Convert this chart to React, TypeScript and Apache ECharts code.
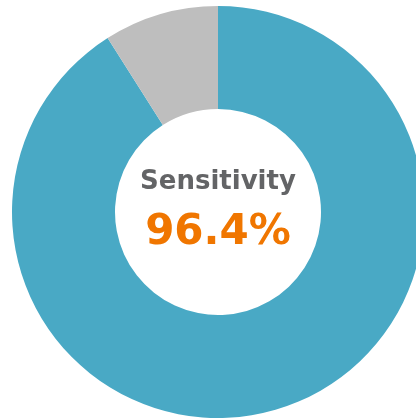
import React, { useEffect, useRef } from "react";
import * as echarts from "echarts";

const categories = ["Sensitive", "Missed"];
const values = [91, 9];
const colors = ["#49A9C5", "#BEBEBE"];
const titleText = "Sensitivity";
const valueText = "96.4%";

export default function App() {
  const ref = useRef<HTMLDivElement>(null);
  useEffect(() => {
    if (!ref.current) return;
    const chart = echarts.init(ref.current, null, { renderer: "svg" });
    chart.setOption({
      animation: false,
      series: [
        {
          type: "pie",
          center: [218, 212],
          radius: [103, 206],
          startAngle: 90,
          clockwise: true,
          label: { show: false },
          labelLine: { show: false },
          emphasis: { disabled: true },
          itemStyle: { borderWidth: 0 },
          data: categories.map((c, i) => ({
            name: c,
            value: values[i],
            itemStyle: { color: colors[i] },
          })),
        },
      ],
      graphic: [
        {
          type: "text",
          x: 218,
          y: 180,
          style: {
            text: titleText,
            fill: "#636466",
            font: "bold 26px 'DejaVu Sans'",
            textAlign: "center",
            textVerticalAlign: "middle",
          },
        },
        {
          type: "text",
          x: 218,
          y: 229,
          style: {
            text: valueText,
            fill: "#F07600",
            font: "bold 42px 'DejaVu Sans'",
            textAlign: "center",
            textVerticalAlign: "middle",
          },
        },
      ],
    });
    return () => chart.dispose();
  }, []);
  return (
    <div
      ref={ref}
      style={{ position: "fixed", left: 0, top: 0, width: 416, height: 420 }}
    />
  );
}
